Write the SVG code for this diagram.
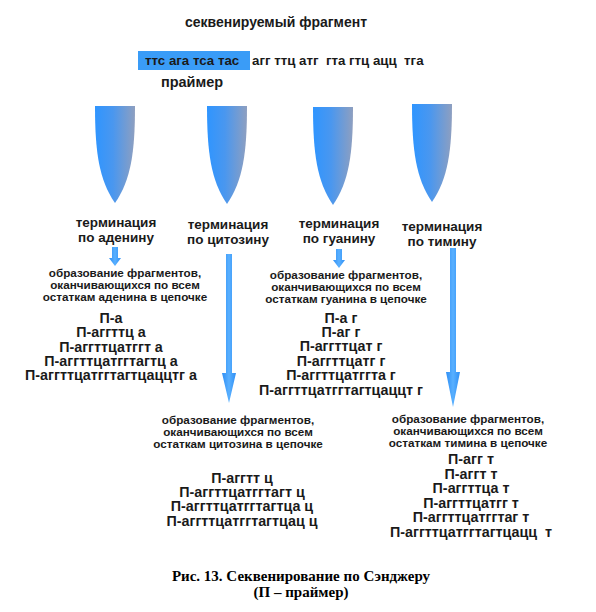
<svg xmlns="http://www.w3.org/2000/svg" width="596" height="612" viewBox="0 0 596 612">
<defs>
<linearGradient id="tube" x1="0" y1="0" x2="1" y2="0">
<stop offset="0" stop-color="#2f95ff"/>
<stop offset="0.45" stop-color="#4a97ef"/>
<stop offset="1" stop-color="#8e9fc0"/>
</linearGradient>
<linearGradient id="arr" x1="0" y1="0" x2="1" y2="0">
<stop offset="0" stop-color="#2f8ff5"/>
<stop offset="0.5" stop-color="#59b0ff"/>
<stop offset="1" stop-color="#2f8ff5"/>
</linearGradient>
<style>
text{font-family:"Liberation Sans",Arial,sans-serif;font-weight:bold;fill:#1a1a1a;text-anchor:middle}
.t{font-size:14px}
.seq{font-size:13.3px;text-anchor:start}
.term{font-size:13.5px}
.obr{font-size:11.7px}
.lst{font-size:14.3px}
.cap{font-family:"Liberation Serif","Times New Roman",serif;font-size:15px;fill:#000}
.tube{fill:url(#tube)}
.arrow{fill:url(#arr)}
</style>
</defs>
<rect width="596" height="612" fill="#fff"/>

<g id="header">
<text class="t" x="276" y="27">секвенируемый фрагмент</text>
<rect x="138" y="51" width="112" height="19" fill="#3a9cf7"/>
<text class="seq" x="145" y="65">ттс ага тса тас</text>
<text class="seq" x="252" y="65" xml:space="preserve">агг ттц атг  гта гтц ацц  тга</text>
<text class="t" x="192" y="87" style="font-size:14.5px">праймер</text>
</g>

<g id="tubes">
<path class="tube" d="M95,106 H135 C135,152 131,180 115,203 C99,180 95,152 95,106 Z"/>
<path class="tube" d="M207,106 H247 C247,152 243,181 227,204 C211,181 207,152 207,106 Z"/>
<path class="tube" d="M313,107 H353 C353,153 349,182 333,205 C317,182 313,153 313,107 Z"/>
<path class="tube" d="M412,104 H452 C452,150 448,179 432,202 C416,179 412,150 412,104 Z"/>
</g>

<g id="connectors">
<polygon class="arrow" points="112,247 118,247 118,258 121,258 115,266 109,258 112,258"/>
<polygon class="arrow" points="336,249 342,249 342,260 345,260 339,268 333,260 336,260"/>
<polygon class="arrow" points="226,254 232,254 232,373 236,373 229,403 222,373 226,373"/>
<polygon class="arrow" points="450,248 456,248 456,372 460,372 453,407 446,372 450,372"/>
</g>

<g id="adenine">
<text class="term" x="116" y="227">терминация</text>
<text class="term" x="116" y="242">по аденину</text>
<text class="obr" x="125" y="277">образование фрагментов,</text>
<text class="obr" x="125" y="289">оканчивающихся по всем</text>
<text class="obr" x="125" y="301">остаткам аденина в цепочке</text>
<text class="lst" x="111" y="323">П-а</text>
<text class="lst" x="111" y="337">П-аггттц а</text>
<text class="lst" x="111" y="352">П-аггттцатггт а</text>
<text class="lst" x="111" y="366">П-аггттцатггтагтц а</text>
<text class="lst" x="111" y="380">П-аггттцатггтагтцаццтг а</text>
</g>

<g id="cytosine">
<text class="term" x="228" y="229">терминация</text>
<text class="term" x="228" y="244">по цитозину</text>
<text class="obr" x="238" y="424">образование фрагментов,</text>
<text class="obr" x="238" y="436">оканчивающихся по всем</text>
<text class="obr" x="238" y="448">остаткам цитозина в цепочке</text>
<text class="lst" x="242" y="483">П-аггтт ц</text>
<text class="lst" x="242" y="497">П-аггттцатггтагт ц</text>
<text class="lst" x="242" y="511">П-аггттцатггтагтца ц</text>
<text class="lst" x="242" y="526">П-аггттцатггтагтцац ц</text>
</g>

<g id="guanine">
<text class="term" x="339" y="228">терминация</text>
<text class="term" x="339" y="243">по гуанину</text>
<text class="obr" x="346" y="279">образование фрагментов,</text>
<text class="obr" x="346" y="291">оканчивающихся по всем</text>
<text class="obr" x="346" y="303">остаткам гуанина в цепочке</text>
<text class="lst" x="341" y="323">П-а г</text>
<text class="lst" x="341" y="337">П-аг г</text>
<text class="lst" x="341" y="351">П-аггттцат г</text>
<text class="lst" x="341" y="366">П-аггттцатг г</text>
<text class="lst" x="341" y="380">П-аггттцатггта г</text>
<text class="lst" x="341" y="395">П-аггттцатггтагтцаццт г</text>
</g>

<g id="thymine">
<text class="term" x="442" y="231">терминация</text>
<text class="term" x="442" y="246">по тимину</text>
<text class="obr" x="468" y="423">образование фрагментов,</text>
<text class="obr" x="468" y="435">оканчивающихся по всем</text>
<text class="obr" x="468" y="447">остаткам тимина в цепочке</text>
<text class="lst" x="471" y="464">П-агг т</text>
<text class="lst" x="471" y="479">П-аггт т</text>
<text class="lst" x="471" y="493">П-аггттца т</text>
<text class="lst" x="471" y="508">П-аггттцатгг т</text>
<text class="lst" x="471" y="522">П-аггттцатггтаг т</text>
<text class="lst" x="471" y="537" xml:space="preserve">П-аггттцатггтагтцацц  т</text>
</g>

<g id="caption">
<text class="cap" x="301" y="581">Рис. 13. Секвенирование по Сэнджеру</text>
<text class="cap" x="301" y="597">(П – праймер)</text>
</g>
</svg>
